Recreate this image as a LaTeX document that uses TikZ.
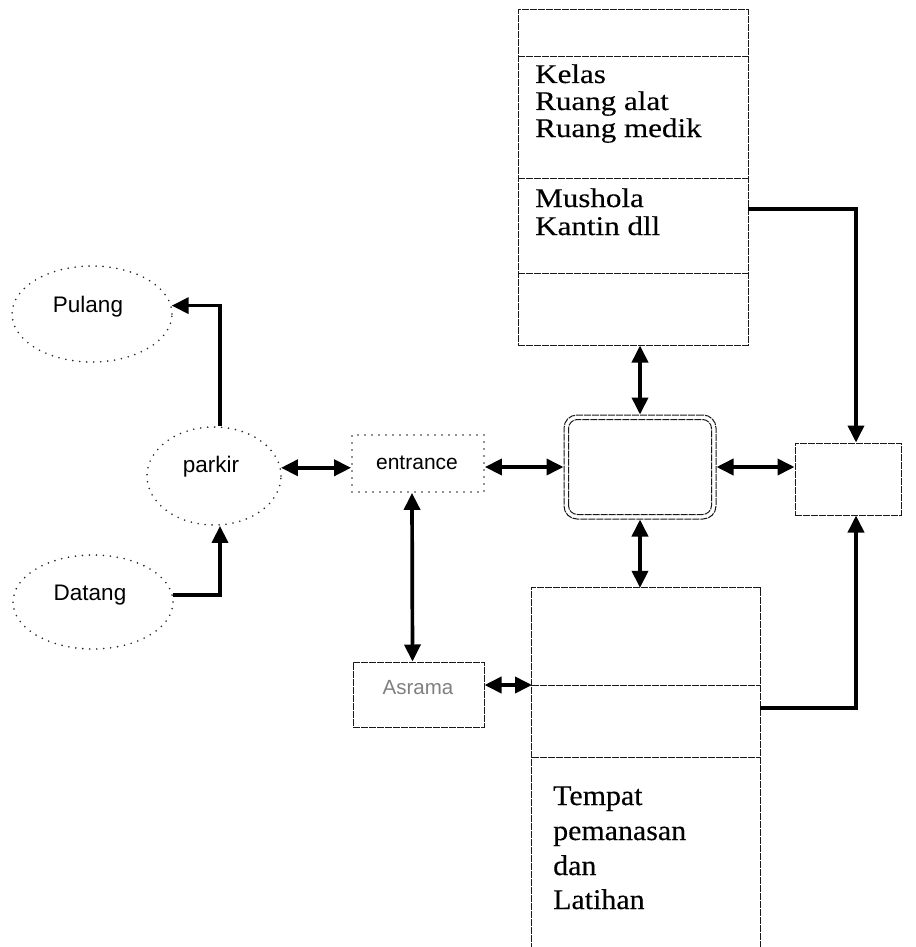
\documentclass[tikz,border=0pt]{standalone}
\usepackage{fontspec}
\setmainfont{Liberation Serif}
\newfontfamily\roomfont[FakeStretch=1.15,FakeBold=0.3]{Liberation Serif}
\newfontfamily\roomfontb[FakeStretch=1.05,FakeBold=0.3]{Liberation Serif}
\newfontfamily\tagfont{Liberation Sans}
\usetikzlibrary{arrows.meta,shapes.geometric}

\begin{document}
\begin{tikzpicture}[x=1pt,y=-1pt,
  wall/.style={draw=black!90, line width=1pt, dash pattern=on 7pt off 1pt},
  plainbox/.style={wall, rectangle, inner sep=0pt},
  dotline/.style={draw=black!85, line width=1.8pt, line cap=round, dash pattern=on 0pt off 7pt},
  oval/.style={dotline, ellipse, inner sep=0pt, minimum width=160pt, minimum height=96pt},
  roomtxt/.style={font=\roomfont\fontsize{27}{27}\selectfont, inner sep=0pt, anchor=base west},
  roomtxtb/.style={font=\roomfontb\fontsize{28.5}{30}\selectfont, inner sep=0pt, anchor=base west},
  tagtxt/.style={font=\tagfont\fontsize{22.5}{24}\selectfont, inner sep=0pt},
  flow/.style={line width=3.7pt, -{Triangle[length=17pt,width=16pt]}},
  twoway/.style={line width=3.7pt, {Triangle[length=17pt,width=16pt]}-{Triangle[length=17pt,width=16pt]}}
]
\fill[white] (0,0) rectangle (915,947);
\useasboundingbox (0,0) rectangle (915,947);

% upper block of rooms
\node[plainbox, minimum width=230pt, minimum height=335pt] (top) at (633,177.5) {};
\coordinate (tdA) at (518,57);
\coordinate (tdB) at (518,178);
\coordinate (tdC) at (518,273);
\draw[wall] (tdA) -- +(230,0);
\draw[wall] (tdB) -- +(230,0);
\draw[wall] (tdC) -- +(230,0);
\node[roomtxt] (kelas) at (535,83) {Kelas};
\node[roomtxt] (ralat) at (535,110) {Ruang alat};
\node[roomtxt] (rmedik) at (535,137) {Ruang medik};
\node[roomtxt] (mushola) at (535,207) {Mushola};
\node[roomtxt] (kantin) at (535,235) {Kantin dll};

% central hall (double rounded frame)
\node[wall, rectangle, rounded corners=13pt, inner sep=0pt,
      minimum width=152pt, minimum height=104pt] (cen) at (640,467) {};
\draw[wall, rounded corners=9pt] ([xshift=5pt,yshift=5pt]cen.south west)
      rectangle ([xshift=-5pt,yshift=-5pt]cen.north east);

% small box on the right
\node[plainbox, minimum width=106pt, minimum height=72pt] (rb) at (848,479) {};

% lower block of rooms (open at the bottom)
\node[rectangle, inner sep=0pt, minimum width=228pt, minimum height=362pt] (bot) at (646,769) {};
\draw[wall] (bot.south west) -- (bot.north west) -- (bot.north east) -- (bot.south east);
\coordinate (bdA) at (532,685);
\coordinate (bdB) at (532,757);
\draw[wall] (bdA) -- +(228,0);
\draw[wall] (bdB) -- +(228,0);
\node[roomtxtb] (tempat) at (553,805) {Tempat};
\node[roomtxtb] (pemanasan) at (553,840) {pemanasan};
\node[roomtxtb] (dan) at (553,875) {dan};
\node[roomtxtb] (latihan) at (553,909) {Latihan};

% entrance and dormitory
\node[dotline, rectangle, inner sep=0pt, minimum width=132pt, minimum height=57pt] (ent) at (418,463.5) {};
\node[tagtxt, font=\tagfont\fontsize{21}{24}\selectfont] (entT) at (417,463) {entrance};
\node[plainbox, minimum width=131pt, minimum height=65pt] (asr) at (418.5,694.5) {};
\node[tagtxt, font=\tagfont\fontsize{20.5}{24}\selectfont, text=black!50] (asrT) at (418,688) {Asrama};

% ovals
\node[oval] (pul) at (92,314) {};
\node[tagtxt] (pulT) at (88,307) {Pulang};
\node[oval, minimum width=134pt, minimum height=98pt] (park) at (214,476) {};
\node[tagtxt] (parkT) at (211,467) {parkir};
\node[oval, minimum height=94pt] (dat) at (93,602) {};
\node[tagtxt] (datT) at (90,595) {Datang};

% connectors
\coordinate (musOut) at (748,209);
\coordinate (latOut) at (760,708);
\draw[flow] ([xshift=6pt]park.north) |- (pul.6);
\draw[flow] (dat.5) -| ([xshift=6pt]park.south);
\draw[twoway] (park.7) -- (park.7 -| ent.west);
\draw[twoway] (ent.east |- cen.west) -- (cen.west);
\draw[twoway] (cen.east) -- (cen.east -| rb.west);
\draw[twoway] (top.south -| cen.north) -- (cen.north);
\draw[twoway] (cen.south) -- (cen.south |- bot.north);
\draw[twoway] ([xshift=-6pt]ent.south) -- ([xshift=-6pt]asr.north);
\draw[twoway] (asr.east |- bdA) -- (bdA);
\draw[flow] (musOut) -| ([xshift=8pt]rb.north);
\draw[flow] (latOut) -| ([xshift=8pt]rb.south);
\end{tikzpicture}
\end{document}
